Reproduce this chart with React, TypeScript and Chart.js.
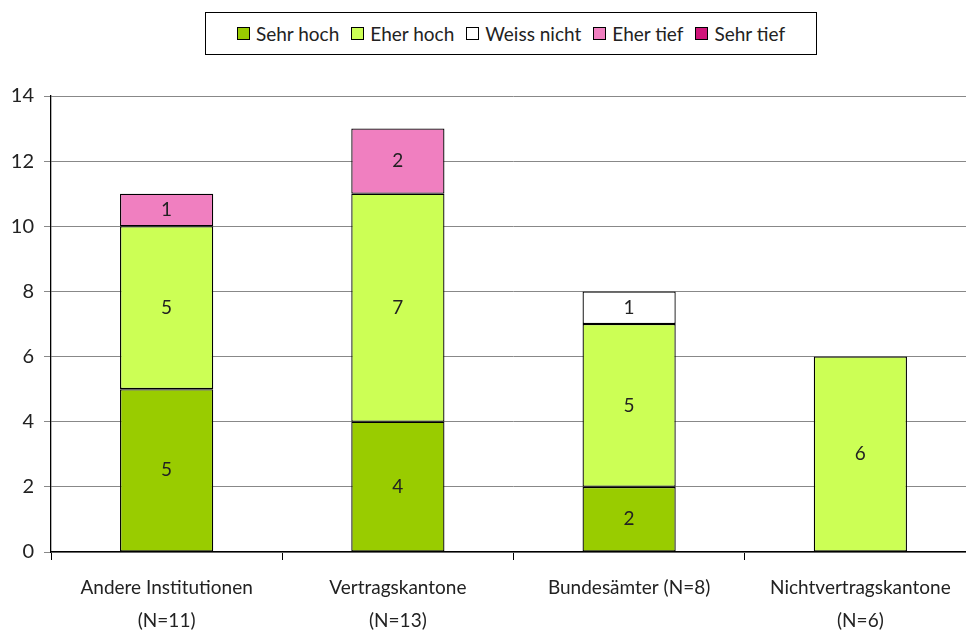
import React, { useEffect, useRef } from "react";
import { Chart, registerables } from "chart.js";

Chart.register(...registerables);

const categories: string[][] = [
  ["Andere Institutionen", "(N=11)"],
  ["Vertragskantone", "(N=13)"],
  ["Bundesämter (N=8)"],
  ["Nichtvertragskantone", "(N=6)"],
];
const seriesNames = ["Sehr hoch", "Eher hoch", "Weiss nicht", "Eher tief", "Sehr tief"];
const sehrHoch = [5, 4, 2, 0];
const eherHoch = [5, 7, 5, 6];
const weissNicht = [0, 0, 1, 0];
const eherTief = [1, 2, 0, 0];
const sehrTief = [0, 0, 0, 0];
const colors = ["#99CC00", "#CCFF55", "#FFFFFF", "#F07FC0", "#D0157A"];
const yTicks = [0, 2, 4, 6, 8, 10, 12, 14];

const FONT = "Lato, 'DejaVu Sans', sans-serif";

const labelPlugin = {
  id: "segLabels",
  afterDatasetsDraw(chart: any) {
    const ctx = chart.ctx;
    ctx.save();
    ctx.font = `19px ${FONT}`;
    ctx.fillStyle = "#222";
    ctx.textAlign = "center";
    ctx.textBaseline = "middle";
    chart.data.datasets.forEach((ds: any, i: number) => {
      const meta = chart.getDatasetMeta(i);
      meta.data.forEach((el: any, j: number) => {
        const v = ds.data[j];
        if (!v) return;
        ctx.fillText(String(v), el.x, (el.y + el.base) / 2);
      });
    });
    ctx.restore();
  },
};

export default function App() {
  const ref = useRef<HTMLCanvasElement>(null);
  useEffect(() => {
    document.body.style.margin = "0";
    const values = [sehrHoch, eherHoch, weissNicht, eherTief, sehrTief];
    const chart = new Chart(ref.current as HTMLCanvasElement, {
      type: "bar",
      data: {
        labels: categories,
        datasets: seriesNames.map((n, i) => ({
          label: n,
          data: values[i].map((v) => (v === 0 ? null : v)),
          backgroundColor: colors[i],
          borderColor: "#000",
          borderWidth: 1.3,
          borderSkipped: false,
          categoryPercentage: 1,
          barPercentage: 0.403,
        })),
      },
      options: {
        animation: false,
        responsive: false,
        devicePixelRatio: 1,
        layout: { padding: { top: 96, right: 0, left: 0, bottom: 0 } },
        plugins: { legend: { display: false }, tooltip: { enabled: false } },
        scales: {
          x: {
            stacked: true,
            grid: { offset: true, drawOnChartArea: false, tickLength: 8, color: "#000" },
            border: { color: "#000", width: 1.3 },
            ticks: { color: "#222", font: { family: FONT, size: 19, lineHeight: 1.7 }, padding: 12, maxRotation: 0, autoSkip: false },
            afterFit: (s: any) => { s.height = 81; },
          },
          y: {
            stacked: true,
            min: 0,
            max: 14,
            afterBuildTicks: (s: any) => { s.ticks = yTicks.map((v) => ({ value: v })); },
            grid: { color: "#888", tickLength: 7, lineWidth: 1 },
            border: { color: "#000", width: 1.3 },
            ticks: { color: "#222", font: { family: FONT, size: 20 }, padding: 10 },
            afterFit: (s: any) => { s.width = 51; },
          },
        },
      },
      plugins: [labelPlugin],
    });
    return () => chart.destroy();
  }, []);

  const legendItem = (n: string, i: number) => (
    <span key={n} style={{ display: "inline-flex", alignItems: "center", marginRight: i < 4 ? 12 : 0 }}>
      <span style={{ width: 11, height: 11, border: "1.5px solid #000", background: colors[i], display: "inline-block", marginRight: 6 }} />
      <span>{n}</span>
    </span>
  );

  return (
    <div style={{ position: "relative", width: 966, height: 633, overflow: "hidden", background: "#fff" }}>
      <canvas ref={ref} width={976} height={633} style={{ position: "absolute", left: 0, top: 0 }} />
      <div
        style={{
          position: "absolute",
          left: 205,
          top: 12,
          width: 612,
          height: 43,
          border: "1px solid #000",
          boxSizing: "border-box",
          display: "flex",
          alignItems: "center",
          justifyContent: "center",
          fontFamily: FONT,
          fontSize: 19,
          color: "#222",
          background: "#fff",
        }}
      >
        {seriesNames.map(legendItem)}
      </div>
    </div>
  );
}
